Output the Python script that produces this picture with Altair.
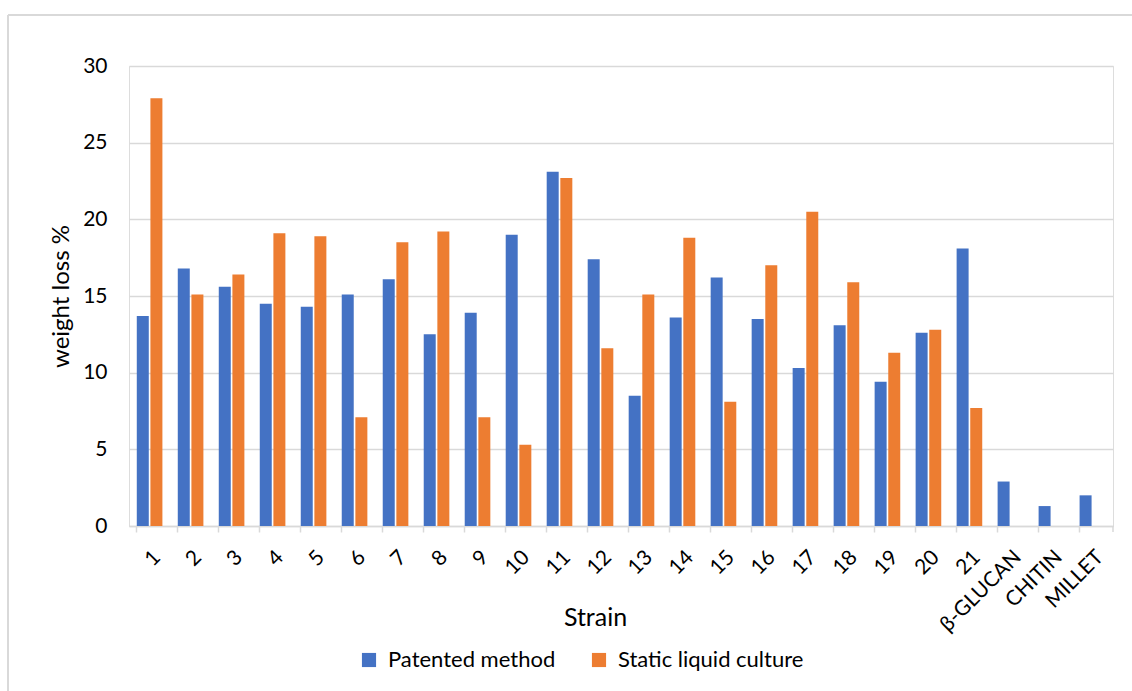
import altair as alt
import pandas as pd

strains = [str(i) for i in range(1, 22)] + ["β-GLUCAN", "CHITIN", "MILLET"]
patented = [13.7, 16.8, 15.6, 14.5, 14.3, 15.1, 16.1, 12.5, 13.9, 19.0, 23.1, 17.4,
            8.5, 13.6, 16.2, 13.5, 10.3, 13.1, 9.4, 12.6, 18.1, 2.9, 1.3, 2.0]
static = [27.9, 15.1, 16.4, 19.1, 18.9, 7.1, 18.5, 19.2, 7.1, 5.3, 22.7, 11.6,
          15.1, 18.8, 8.1, 17.0, 20.5, 15.9, 11.3, 12.8, 7.7, None, None, None]
series = ["Patented method", "Static liquid culture"]
colors = ["#4472C4", "#ED7D31"]

rows = []
for s, p, q in zip(strains, patented, static):
    rows.append({"Strain": s, "Series": series[0], "value": p})
    if q is not None:
        rows.append({"Strain": s, "Series": series[1], "value": q})
df = pd.DataFrame(rows)

FONT = "Lato"
W, H = 984, 460
PL, PT = 129, 66

bars = alt.Chart(df).mark_bar().encode(
    x=alt.X("Strain:N", sort=strains,
            scale=alt.Scale(paddingInner=0.375, paddingOuter=0.19),
            axis=alt.Axis(title="Strain", labelAngle=-45, bandPosition=0,
                          domainColor="#d9d9d9", domainWidth=1.5,
                          tickColor="#d9d9d9", tickSize=6, tickWidth=1.5,
                          labelFontSize=21, labelFont=FONT, labelColor="#000",
                          labelPadding=14, labelBound=False, labelOverlap=False,
                          titleFontSize=25, titleFont=FONT, titleFontWeight="normal",
                          titleColor="#000", titleX=466, titleY=91,
                          titleBaseline="middle")),
    xOffset=alt.XOffset("Series:N", sort=series,
                        scale=alt.Scale(domain=series, paddingInner=0.12)),
    y=alt.Y("value:Q", scale=alt.Scale(domain=[0, 30]),
            axis=alt.Axis(title="weight loss %", values=[0, 5, 10, 15, 20, 25, 30],
                          domain=False, ticks=False, gridColor="#d9d9d9", gridWidth=1.5,
                          labelFontSize=21, labelFont=FONT, labelColor="#000",
                          labelPadding=22,
                          titleFontSize=24, titleFont=FONT, titleFontWeight="normal",
                          titleColor="#000", titleX=-68, titleY=H / 2,
                          titleAngle=-90, titleBaseline="middle", titleAlign="center")),
    color=alt.Color("Series:N", sort=series,
                    scale=alt.Scale(domain=series, range=colors),
                    legend=alt.Legend(title=None, orient="none", direction="horizontal",
                                      legendX=229, legendY=583,
                                      symbolType="square", symbolSize=200,
                                      symbolStrokeWidth=0, labelLimit=400,
                                      labelFontSize=22, labelFont=FONT,
                                      labelColor="#000", columnPadding=32,
                                      labelOffset=8)),
)

border_df = pd.DataFrame({"k": [0]})
top_border = alt.Chart(border_df).mark_rule(color="#d9d9d9", strokeWidth=2).encode(
    x=alt.value(8 - PL), x2=alt.value(1140 - PL), y=alt.value(15 - PT))
left_border = alt.Chart(border_df).mark_rule(color="#d9d9d9", strokeWidth=2).encode(
    x=alt.value(8 - PL), y=alt.value(15 - PT), y2=alt.value(700 - PT))
end_tick = alt.Chart(border_df).mark_rule(color="#d9d9d9", strokeWidth=1.5).encode(
    x=alt.value(W), y=alt.value(H), y2=alt.value(H + 6))

chart = alt.layer(bars, top_border, left_border, end_tick).properties(
    width=W, height=H,
    autosize=alt.AutoSizeParams(type="none"),
    padding={"left": PL, "top": PT, "right": 1132 - PL - W, "bottom": 691 - PT - H},
).configure_view(stroke=None).configure(background="white")

chart.save("out.html", embed_options={"renderer": "svg", "actions": False})
